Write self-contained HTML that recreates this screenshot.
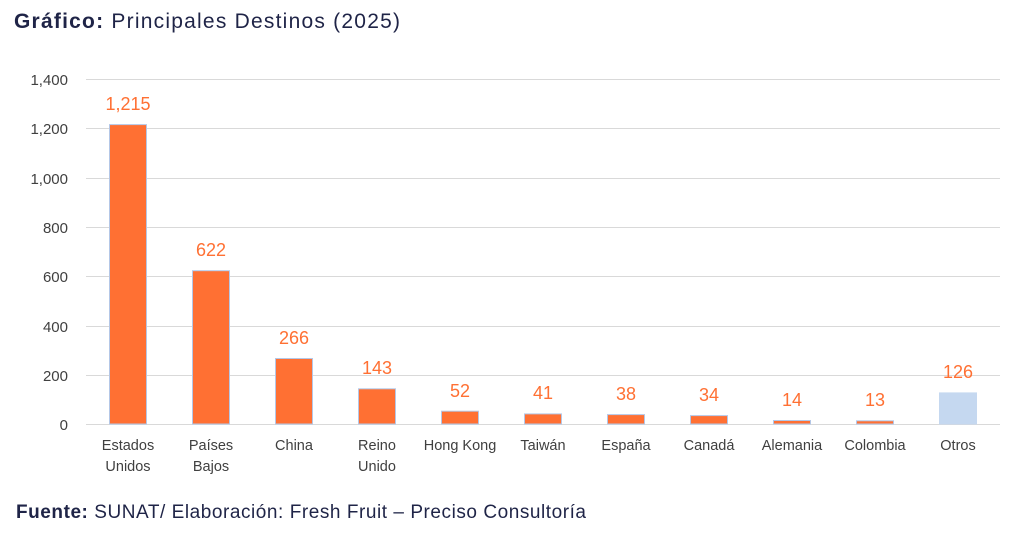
<!DOCTYPE html>
<html><head><meta charset="utf-8"><style>
body{margin:0;background:#fff;width:1024px;height:535px;overflow:hidden;font-family:"Liberation Sans",sans-serif}
</style></head><body>
<svg width="1024" height="535" xmlns="http://www.w3.org/2000/svg" font-family="Liberation Sans, sans-serif">
<text x="14" y="28" font-size="21" fill="#1f2447" textLength="386" lengthAdjust="spacing"><tspan font-weight="bold">Gráfico:</tspan> Principales Destinos (2025)</text>
<g stroke="#d9d9d9" stroke-width="1">
<line x1="86" x2="1000" y1="79.5" y2="79.5"/>
<line x1="86" x2="1000" y1="128.5" y2="128.5"/>
<line x1="86" x2="1000" y1="178.5" y2="178.5"/>
<line x1="86" x2="1000" y1="227.5" y2="227.5"/>
<line x1="86" x2="1000" y1="276.5" y2="276.5"/>
<line x1="86" x2="1000" y1="326.5" y2="326.5"/>
<line x1="86" x2="1000" y1="375.5" y2="375.5"/>
<line x1="86" x2="1000" y1="424.5" y2="424.5"/>
</g>
<g font-size="15" fill="#404040" text-anchor="end">
<text x="68" y="85">1,400</text><text x="68" y="134">1,200</text><text x="68" y="184">1,000</text>
<text x="68" y="233">800</text><text x="68" y="282">600</text><text x="68" y="332">400</text>
<text x="68" y="381">200</text><text x="68" y="430">0</text>
</g>
<g fill="#ff7033" stroke="#b4c7e7" stroke-width="1">
<rect x="109.5" y="124.6" width="37" height="299.4"/>
<rect x="192.5" y="270.7" width="37" height="153.3"/>
<rect x="275.5" y="358.5" width="37" height="65.5"/>
<rect x="358.5" y="388.8" width="37" height="35.2"/>
<rect x="441.5" y="411.2" width="37" height="12.8"/>
<rect x="524.5" y="413.9" width="37" height="10.1"/>
<rect x="607.5" y="414.6" width="37" height="9.4"/>
<rect x="690.5" y="415.6" width="37" height="8.4"/>
<rect x="773.5" y="420.5" width="37" height="3.5"/>
<rect x="856.5" y="420.8" width="37" height="3.2"/>
<rect x="939.5" y="392.9" width="37" height="31.1" fill="#c5d8f0" stroke="#c5d8f0"/>
</g>
<g font-size="18" fill="#ff7033" text-anchor="middle">
<text x="128" y="110">1,215</text><text x="211" y="256">622</text><text x="294" y="344">266</text>
<text x="377" y="374">143</text><text x="460" y="397">52</text><text x="543" y="399">41</text>
<text x="626" y="400">38</text><text x="709" y="401">34</text><text x="792" y="406">14</text>
<text x="875" y="406">13</text><text x="958" y="378">126</text>
</g>
<g font-size="14.5" fill="#404040" text-anchor="middle">
<text x="128" y="450">Estados</text><text x="128" y="471">Unidos</text>
<text x="211" y="450">Países</text><text x="211" y="471">Bajos</text>
<text x="294" y="450">China</text>
<text x="377" y="450">Reino</text><text x="377" y="471">Unido</text>
<text x="460" y="450">Hong Kong</text><text x="543" y="450">Taiwán</text>
<text x="626" y="450">España</text><text x="709" y="450">Canadá</text>
<text x="792" y="450">Alemania</text><text x="875" y="450">Colombia</text>
<text x="958" y="450">Otros</text>
</g>
<text x="16" y="518" font-size="19" fill="#1f2447" textLength="570" lengthAdjust="spacing"><tspan font-weight="bold">Fuente:</tspan> SUNAT/ Elaboración: Fresh Fruit – Preciso Consultoría</text>
</svg>
</body></html>
